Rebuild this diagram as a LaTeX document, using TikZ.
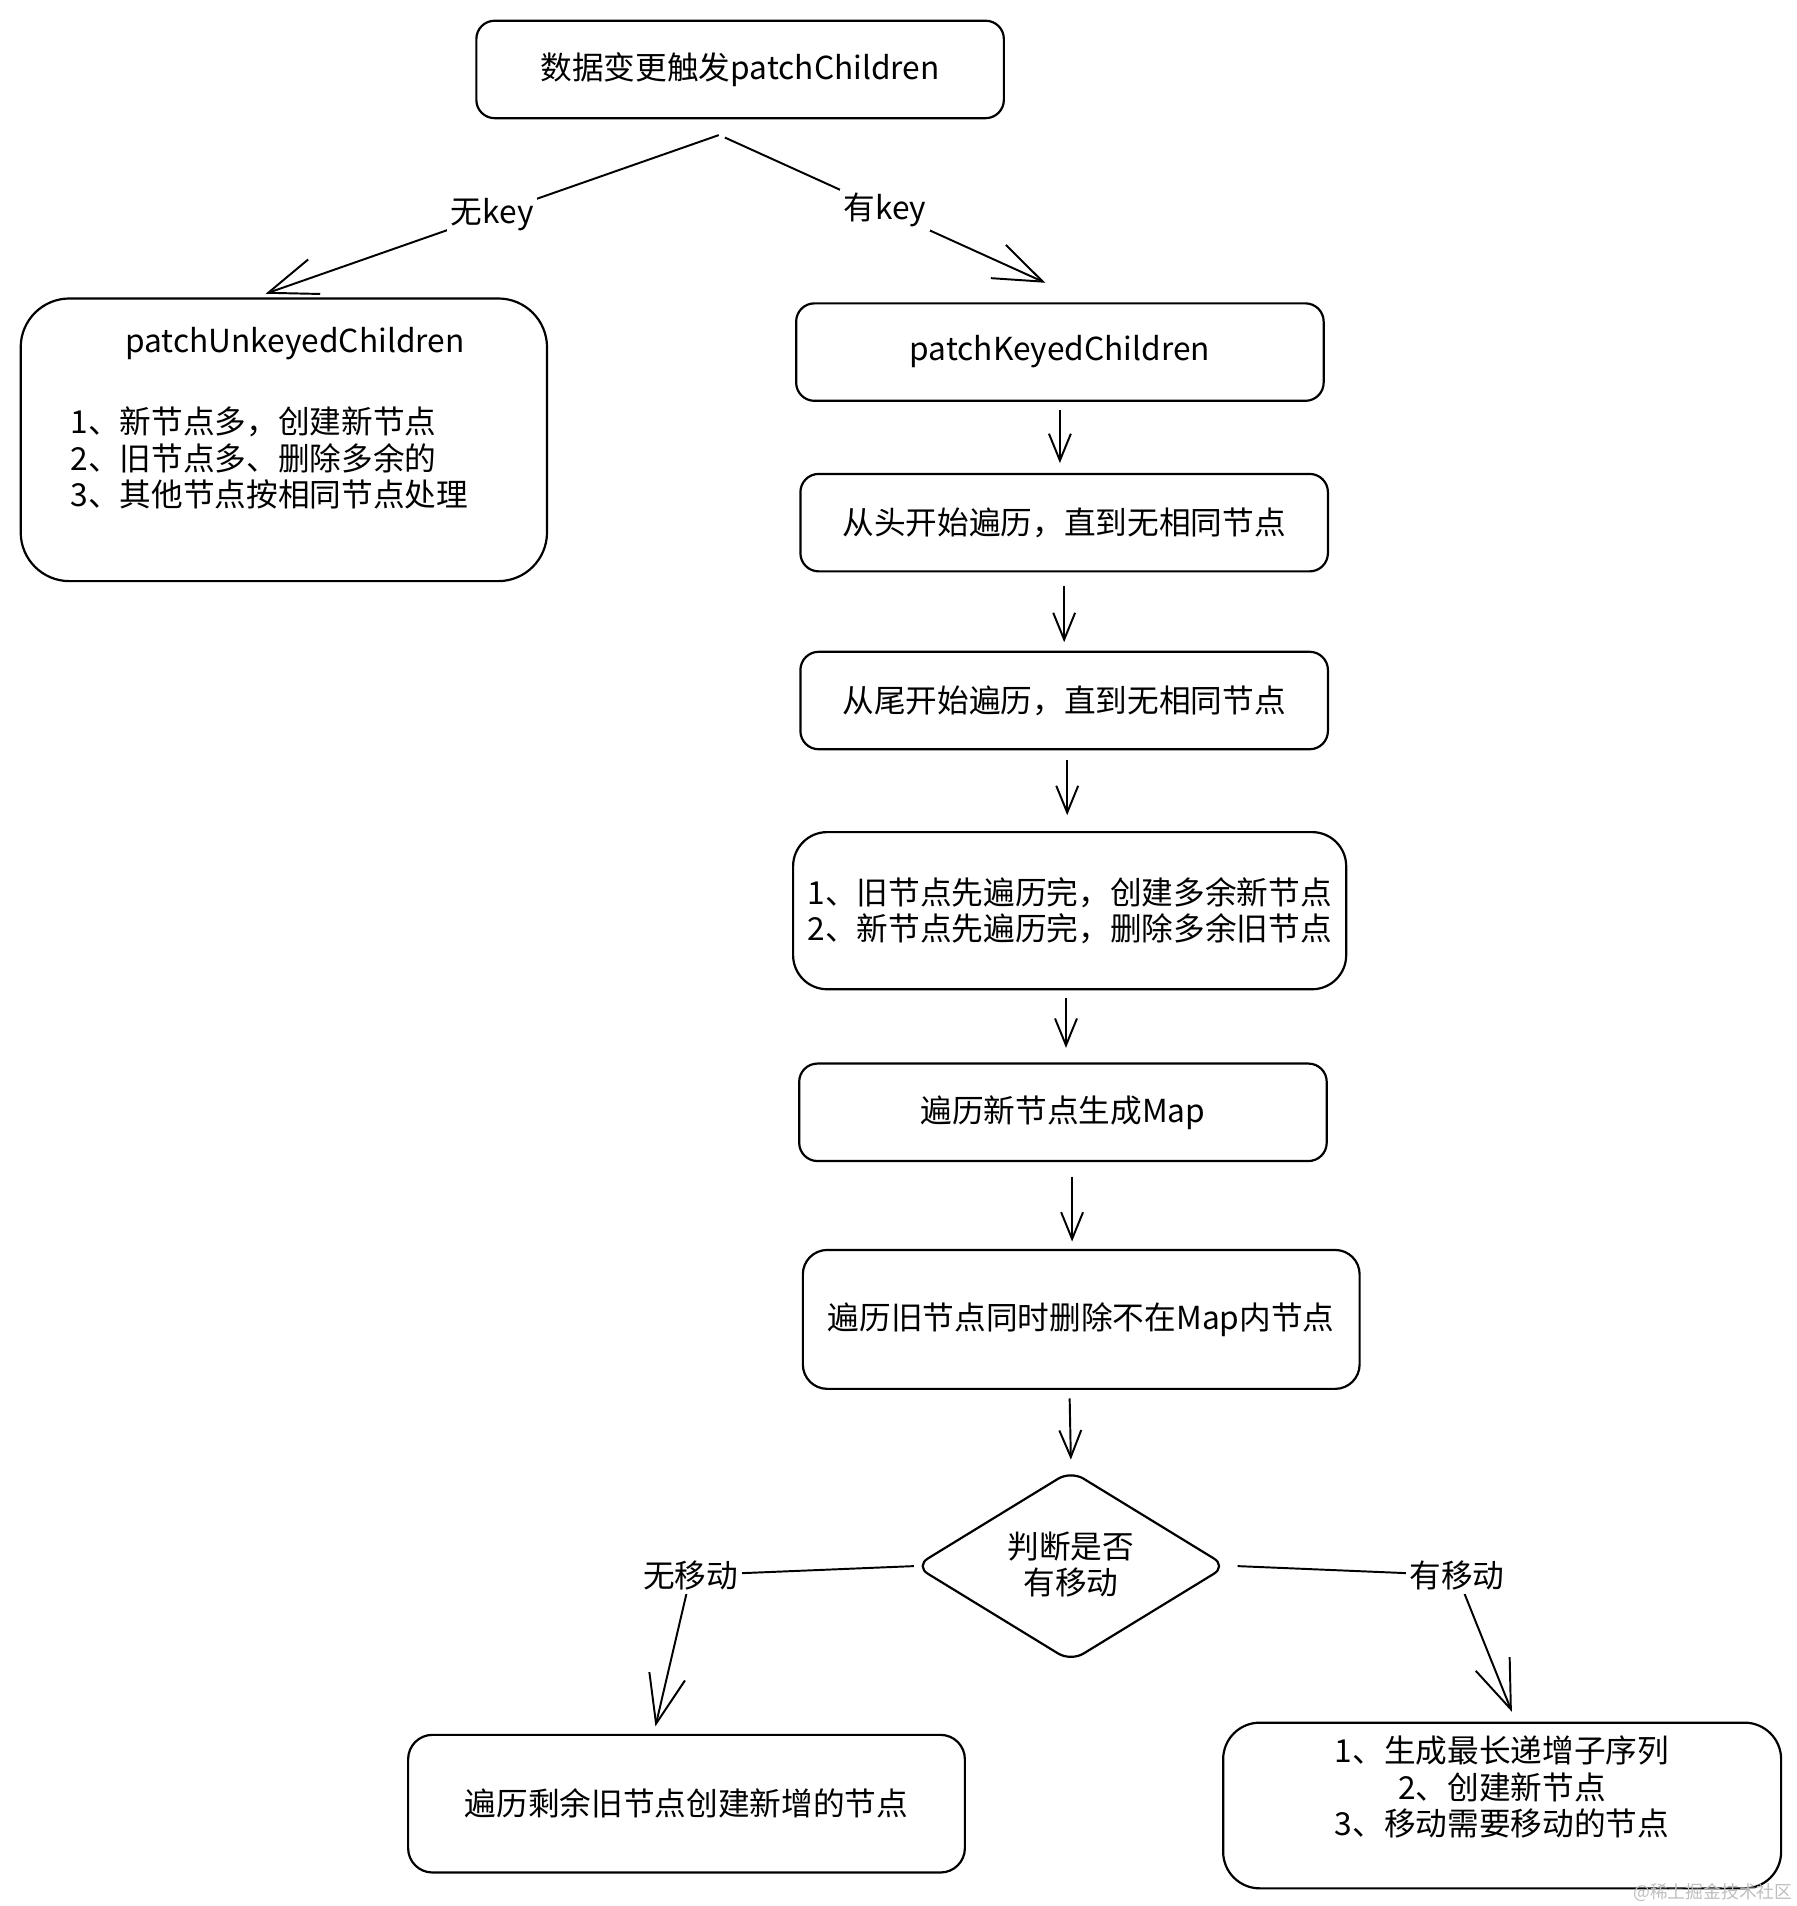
\documentclass[tikz,border=0pt]{standalone}
\usepackage{fontspec}
\setmainfont{Noto Sans CJK SC}
\usetikzlibrary{arrows.meta,shapes.geometric}
\definecolor{wm}{RGB}{190,190,190}
\begin{document}
\begin{tikzpicture}[x=0.5pt,y=-0.5pt,line width=0.9pt,
  box/.style={draw,rounded corners=7.5pt,minimum width=216.5pt,minimum height=40pt,inner sep=0pt,align=center,font=\fontsize{13}{15}\selectfont},
  txt/.style={inner sep=0pt,font=\fontsize{13}{15}\selectfont},
  lbl/.style={fill=white,inner sep=1.5pt,font=\fontsize{13}{15}\selectfont},
  arr/.style={-{Straight Barb[length=11pt,width=9pt,line width=0.8pt]},line width=0.8pt},
  arrbig/.style={-{Straight Barb[length=20pt,width=15pt,line width=0.8pt]},line width=0.8pt}]
\useasboundingbox (0,0) rectangle (1475,1564.5);

\node[box] (b1) at (607.5,57) {数据变更触发patchChildren};

\node[box,minimum width=216pt,minimum height=116pt,rounded corners=20pt] (b2) at (233,361) {};
\node[txt] (t2a) at (242,282) {patchUnkeyedChildren};
\node[txt,anchor=west,align=left] (t2b) at (57,376) {1、新节点多，创建新节点\\2、旧节点多、删除多余的\\3、其他节点按相同节点处理};

\node[box] (b3) at (870,289) {patchKeyedChildren};
\node[box] (b4) at (873.5,429) {从头开始遍历，直到无相同节点};
\node[box] (b5) at (873.5,575) {从尾开始遍历，直到无相同节点};
\node[box,minimum width=227pt,minimum height=64.5pt,rounded corners=14pt] (b6) at (878,747.5) {1、旧节点先遍历完，创建多余新节点\\2、新节点先遍历完，删除多余旧节点};
\node[box] (b7) at (872.5,913) {遍历新节点生成Map};
\node[box,minimum width=228.5pt,minimum height=57pt,rounded corners=10pt] (b8) at (887.5,1083) {遍历旧节点同时删除不在Map内节点};
\node[draw,diamond,minimum width=128pt,minimum height=78.5pt,inner sep=0pt,rounded corners=6pt] (d) at (879,1285.5) {};
\node[txt,align=center] (dt) at (879,1284) {判断是否\\有移动};
\node[box,minimum width=228.5pt,minimum height=56.5pt,rounded corners=10pt] (b9) at (563.5,1480.5) {遍历剩余旧节点创建新增的节点};
\node[box,minimum width=229pt,minimum height=68pt,rounded corners=15pt] (b10) at (1233,1482) {};
\node[txt,align=center] (t10) at (1233,1467) {1、生成最长递增子序列\\2、创建新节点\\3、移动需要移动的节点};

% top branches
\coordinate (s1) at ([xshift=-8.75pt,yshift=-6.5pt]b1.south);
\coordinate (e1) at ([xshift=-7.5pt,yshift=1.5pt]b2.north);
\draw[arrbig] (s1) -- node[lbl] {无key} (e1);
\coordinate (s2) at ([xshift=-6.25pt,yshift=-7.5pt]b1.south);
\coordinate (e2) at ([xshift=-6pt,yshift=8pt]b3.north);
\draw[arrbig] (s2) -- node[lbl] {有key} (e2);

% vertical chain
\draw[arr] ([yshift=-3.5pt]b3.south) -- ([yshift=4pt]b3.south |- b4.north);
\draw[arr] ([yshift=-5.5pt]b4.south) -- ([yshift=3.5pt]b4.south |- b5.north);
\draw[arr] ([xshift=1.25pt,yshift=-4pt]b5.south) -- ([xshift=1.25pt,yshift=6.5pt]b5.south |- b6.north);
\draw[arr] ([xshift=-1.5pt,yshift=-3pt]b6.south) -- ([xshift=-1.5pt,yshift=6pt]b6.south |- b7.north);
\draw[arr] ([xshift=3.75pt,yshift=-6pt]b7.south) -- ([xshift=3.75pt,yshift=3pt]b7.south |- b8.north);
\draw[arr] ([xshift=-4.75pt,yshift=-3.5pt]b8.south) -- ([yshift=4pt]d.north);

% diamond branches
\coordinate (l1) at (567,1293);
\coordinate (l2) at ([xshift=-12.75pt,yshift=3pt]b9.north);
\draw[arrbig] (d.west) -- (l1) node[lbl] {无移动} -- (l2);
\coordinate (r0) at ([xshift=4pt]d.east);
\coordinate (r1) at (1196,1293);
\coordinate (r2) at ([xshift=4pt,yshift=4pt]b10.north);
\draw[arrbig] (r0) -- (r1) node[lbl] {有移动} -- (r2);

\node[text=wm,inner sep=0pt,font=\fontsize{7.3}{8}\selectfont] (wmk) at (1406,1553) {@稀土掘金技术社区};
\end{tikzpicture}
\end{document}
